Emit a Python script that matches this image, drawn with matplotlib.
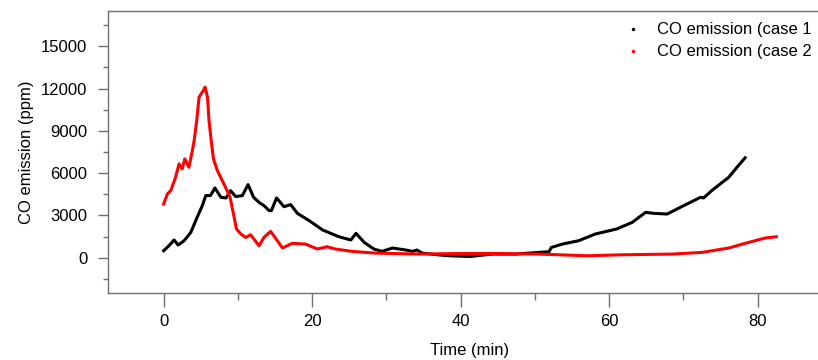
import matplotlib
matplotlib.use("Agg")
import matplotlib.pyplot as plt
from matplotlib.lines import Line2D
from matplotlib.ticker import MultipleLocator

plt.rcParams['font.family'] = ['Liberation Sans', 'DejaVu Sans']

# CO emission readings, case 1 (black)
case1_time = [0, 0.7, 1.4, 1.94, 2.75, 3.65, 4.5, 5.2, 5.67, 6.3, 6.9, 7.7, 8.4,
              9.0, 9.7, 10.6, 11.36, 12.1, 12.9, 13.5, 14.2, 14.5, 15.2, 16.2,
              17.1, 18.0, 19.6, 21.4, 23.6, 25.2, 25.9, 27.0, 28.3, 29.4, 30.8,
              32.6, 33.5, 34.1, 34.8, 36.5, 38.4, 41.3, 44.2, 47.4, 50.5, 51.9,
              52.2, 53.7, 55.9, 58.1, 61.0, 63.1, 64.9, 66.0, 67.8, 69.4, 72.3,
              72.7, 73.8, 76.1, 77.4, 78.3]
case1_co = [500, 850, 1260, 900, 1210, 1800, 2860, 3700, 4410, 4410, 4950, 4290,
            4240, 4760, 4340, 4410, 5190, 4290, 3900, 3700, 3340, 3340, 4240,
            3620, 3770, 3150, 2630, 1970, 1490, 1260, 1730, 1090, 620, 450, 690,
            550, 450, 550, 330, 230, 140, 90, 260, 260, 380, 430, 730, 970, 1210,
            1680, 2040, 2510, 3220, 3150, 3100, 3530, 4290, 4240, 4760, 5710,
            6540, 7090]

# CO emission readings, case 2 (red)
case2_time = [0, 0.5, 0.95, 1.6, 2.07, 2.5, 2.84, 3.4, 3.86, 4.1, 4.45, 4.76,
              5.35, 5.57, 5.9, 6.1, 6.4, 6.7, 7.23, 8.1, 8.94, 9.4, 9.8, 10.4,
              11.05, 11.7, 12.84, 13.5, 14.4, 16.0, 17.3, 19.1, 20.7, 22.0, 23.1,
              25.4, 28.5, 34.4, 40, 45, 50.5, 57, 61.7, 68.5, 72.5, 76.1, 78.3,
              81, 82.5]
case2_co = [3820, 4530, 4760, 5710, 6660, 6300, 7010, 6420, 7600, 8300, 9740,
            11390, 11870, 12100, 11390, 9740, 8300, 7010, 6180, 5240, 4290, 3100,
            2040, 1680, 1440, 1630, 850, 1440, 1870, 690, 1020, 970, 620, 780, 620,
            450, 330, 260, 300, 300, 260, 140, 210, 260, 380, 690, 1020, 1400, 1490]

labels = ['CO emission (case 1', 'CO emission (case 2']
colors = ['black', 'red']

fig = plt.figure(figsize=(8.18, 3.6), dpi=100)
# axes runs past the right edge of the figure, as in the original
ax = fig.add_axes([108 / 818, (360 - 293) / 360, (832 - 108) / 818, (293 - 11) / 360])

ax.plot(case1_time, case1_co, color=colors[0], lw=2.2)
ax.plot(case2_time, case2_co, color=colors[1], lw=2.2)

ax.set_xlim(-7.5, 90)
ax.set_ylim(-2500, 17500)
ax.xaxis.set_major_locator(MultipleLocator(20))
ax.xaxis.set_minor_locator(MultipleLocator(10))
ax.yaxis.set_major_locator(MultipleLocator(3000))
ax.yaxis.set_minor_locator(MultipleLocator(1500))

spine_col = '#707070'
for side in ['left', 'top', 'bottom']:
    ax.spines[side].set_color(spine_col)
    ax.spines[side].set_linewidth(1.0)
ax.spines['right'].set_visible(False)

ax.tick_params(axis='x', which='major', length=10, width=1, color=spine_col,
               labelsize=12, pad=5)
ax.tick_params(axis='x', which='minor', length=5, width=1, color=spine_col)
ax.tick_params(axis='y', which='major', length=7, width=1, color=spine_col,
               labelsize=12, pad=8)
ax.tick_params(axis='y', which='minor', length=3.5, width=1, color=spine_col)

ax.set_xlabel('Time (min)', fontsize=12, labelpad=10)
ax.set_ylabel('CO emission (ppm)', fontsize=12, labelpad=5)

handles = [Line2D([], [], color=c, marker='.', ls='none', ms=3) for c in colors]
fig.legend(handles, labels, loc='upper left', bbox_to_anchor=(0.760, 0.947),
           frameon=False, fontsize=12, handlelength=1.0, handletextpad=0.9,
           borderaxespad=0, labelspacing=0.42, borderpad=0.2)

fig.savefig('out.png', dpi=100)
